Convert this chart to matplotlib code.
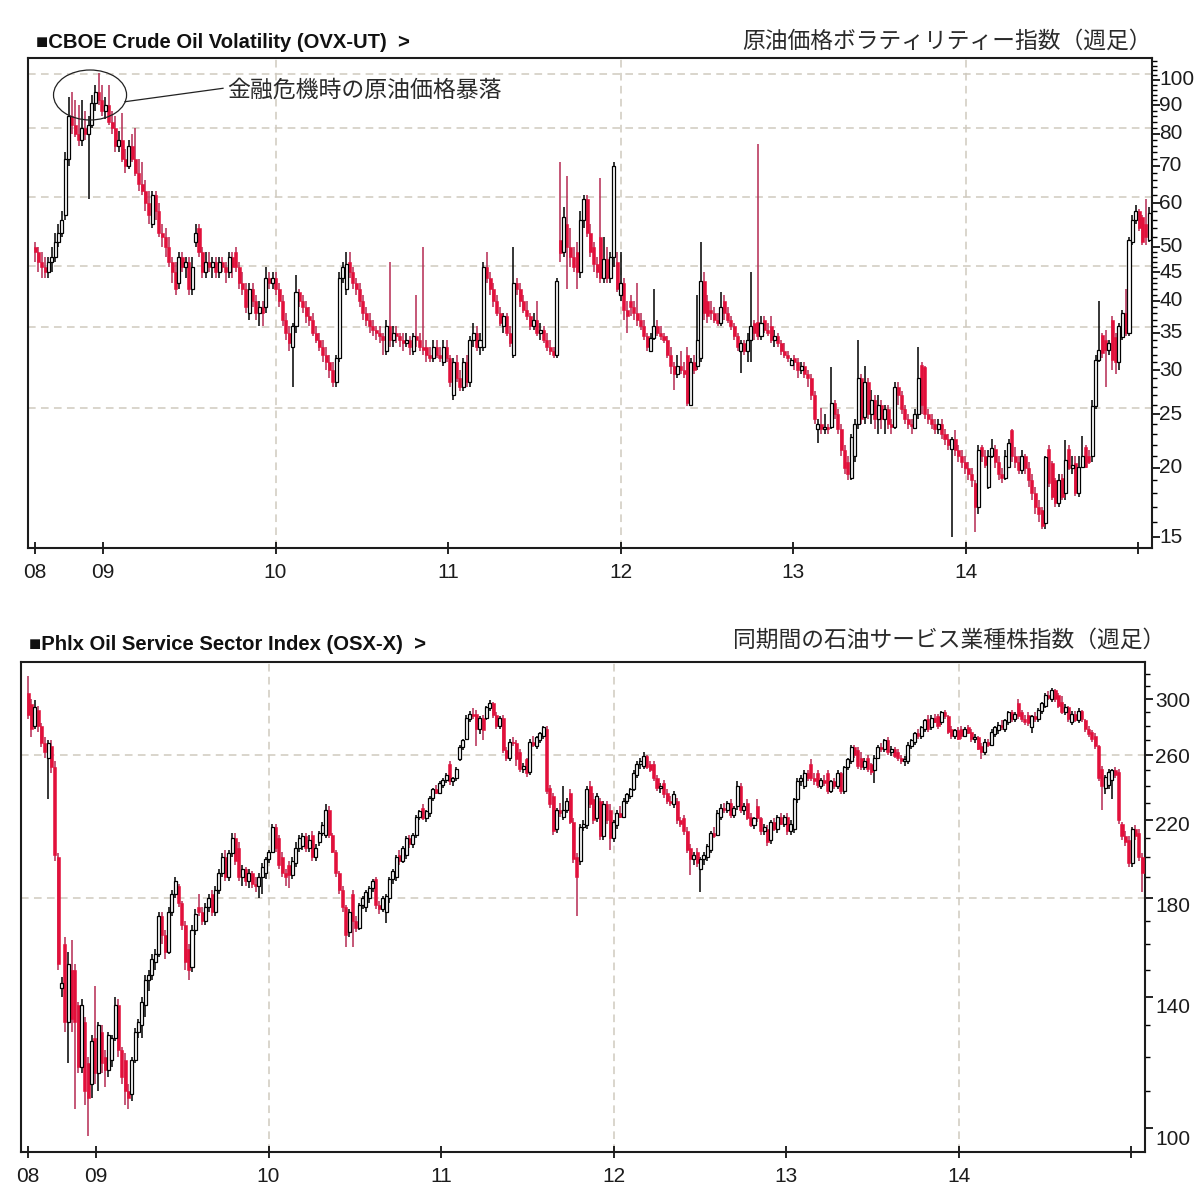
import numpy as np
import matplotlib
matplotlib.use("Agg")
import matplotlib.pyplot as plt
from matplotlib.patches import Ellipse
from matplotlib.lines import Line2D
from matplotlib.ticker import FixedLocator, NullFormatter
from matplotlib.transforms import ScaledTranslation

plt.rcParams['font.family'] = ['Liberation Sans', 'DejaVu Sans']

# ---- CBOE Crude Oil Volatility (OVX), weekly candles, Aug 2008 - Jan 2015 ----
ovx_open = [
    50, 49, 47, 46, 45, 47, 48, 51, 53, 57,
    72, 86, 83, 80, 78, 82, 80, 83, 91, 95,
    92, 88, 90, 84, 82, 76, 78, 72, 70, 76,
    72, 68, 65, 63, 60, 55, 62, 58, 53, 52,
    50, 47, 45, 43, 48, 46, 47, 42, 51, 54,
    49, 45, 47, 46, 47, 45, 47, 46, 45, 48,
    49, 46, 43, 42, 38, 42, 40, 38, 39, 39,
    44, 43, 44, 42, 40, 37, 35, 33, 36, 41.5,
    40, 39, 37.5, 37, 35, 34, 33, 32, 31, 30,
    28.5, 31.5, 44, 42, 47, 45, 43, 42, 40, 38,
    37, 36, 35.5, 35, 34.5, 32.5, 36, 34, 35, 34.5,
    34, 33.5, 34, 32.5, 34.5, 34, 33, 33, 32, 31.5,
    33, 32, 31, 33, 31.5, 27, 31, 29, 28, 31,
    28.5, 34, 35, 33, 33, 46, 44, 42, 40, 38,
    36, 37.5, 35, 32, 43, 42, 40, 38.5, 37.5, 36,
    37, 35, 35.5, 34, 33, 32.5, 32, 51.5, 49, 55,
    50, 48, 49, 45, 56, 61, 53, 50, 46.5, 52,
    44, 47.5, 44, 48, 47, 41, 43, 38.5, 40, 39,
    38, 37, 36, 34.5, 32.5, 34.3, 36, 35, 34.5, 34,
    32, 30.5, 29.5, 30.5, 30, 32, 26, 31, 30.5, 31.5,
    43.5, 40, 38.5, 38, 37, 36.5, 40, 38, 37, 36,
    34.5, 32.5, 33.5, 32.5, 34, 36.5, 36.6, 34.5, 37, 35.5,
    36, 34, 34.5, 33.5, 32.5, 32, 30.6, 31.5, 31, 30,
    30.5, 29.5, 29, 27, 23.5, 24, 23.5, 23.7, 23.7, 26.2,
    25, 23.5, 21.5, 20.5, 19.2, 21, 24, 29, 24.7, 28.5,
    25, 26.5, 24.5, 26, 24.5, 25.5, 24, 23.7, 28, 27,
    25.5, 24.5, 24, 23.6, 25, 30.7, 30.4, 25, 24.5, 24,
    23.5, 24, 23, 22.5, 21.6, 22.5, 21.5, 21, 20.5, 20,
    19.5, 18.8, 17, 21.8, 21, 18.5, 21, 21.6, 20.5, 19.5,
    19.2, 20.1, 23.4, 21, 20.5, 19.8, 21, 20, 19, 18,
    17, 16.8, 15.9, 21.6, 20.4, 19, 17.3, 19.2, 18, 21.6,
    20, 20.4, 18, 20.1, 21.8, 21, 21, 25.8, 31.3, 34.7,
    34, 32.6, 37, 34.4, 31, 34.4, 38, 35, 51, 56,
    58, 56.6, 55, 51.5,
]
ovx_high = [
    51, 50, 49, 48, 48, 50, 53, 55, 58, 74,
    93, 95, 92, 90, 92, 88, 86, 94, 98, 103,
    98, 93, 98, 88, 86, 81, 87, 75, 78, 80,
    82, 72, 71, 66, 63, 63, 63, 60, 55, 54,
    52, 48, 47, 49, 49, 48, 48, 48, 55, 55,
    50, 49, 49, 48, 48, 48, 48, 47, 49, 49,
    50, 47, 45, 43, 43, 43, 41, 40, 40, 46,
    45, 45, 45, 43, 41, 38, 36, 36.5, 44.5, 42,
    41, 40, 39, 38, 36, 35, 34, 33, 32, 31,
    32, 45, 47, 49, 49, 46, 44, 43, 41, 39,
    38, 37, 36, 36, 35, 37, 47, 36, 36, 35,
    35, 35, 34.5, 35, 41, 35, 50, 34, 33, 34,
    34, 33, 34, 34, 32, 31.5, 32, 30, 31.5, 32,
    34.5, 36.5, 36, 35, 47, 49, 45, 43, 41, 39,
    38, 38, 36, 50, 44, 43, 41, 40, 38, 38,
    40, 36.5, 36, 35, 34, 33, 44, 71, 59, 67,
    54, 50, 51, 58, 62, 62, 55, 51, 48, 66.5,
    52, 50, 49, 71, 49, 49, 44, 40, 41, 40,
    43, 38, 37, 35, 35, 42, 37, 36, 35, 34.5,
    33, 31, 32, 32.5, 31, 33, 31.5, 32, 41, 51,
    45, 41, 40, 39, 38, 41.5, 41, 39, 37.5, 36.5,
    35, 34, 34, 35, 45, 37, 76.5, 37.5, 37.5, 36.5,
    37.5, 35.5, 35, 34, 33.5, 32.5, 31.5, 32, 31.5, 31,
    31, 30, 29.5, 27.5, 24.5, 25.6, 25, 24, 30.4, 26.5,
    25.5, 24, 22, 21, 23, 24.5, 34, 29.5, 30.5, 29,
    27.6, 27, 27, 26.5, 26, 26, 24.5, 28.5, 28.5, 27.5,
    26, 25, 24.5, 25.5, 33, 31, 30.5, 25.5, 25, 24.5,
    24.5, 24.5, 23.5, 23, 22.7, 23.4, 22, 21.5, 21, 20.5,
    20, 19, 22, 22, 21.5, 21.5, 22.5, 22, 21, 20,
    21.5, 22.5, 23.5, 21.8, 21, 21.5, 21.2, 20.5, 19.5, 18.5,
    17.5, 17, 21, 22, 20.6, 19.2, 19.5, 19.5, 22.4, 22,
    21, 21, 21, 22.8, 22, 21.5, 26.5, 32, 40, 35,
    35.5, 34, 37.5, 35, 36.5, 38.5, 42, 52, 57, 59.5,
    58.5, 57, 61, 59,
]
ovx_low = [
    47, 45, 44, 44, 44, 45, 47, 50, 52, 56,
    70, 80, 79, 76, 76, 78, 61, 82, 88, 90,
    86, 85, 83, 80, 74, 74, 71, 68, 69, 71,
    67, 63, 62, 58, 55, 54, 56, 52, 50, 48,
    46, 43, 41, 42, 45, 44, 41, 41, 50, 48,
    44, 44, 45, 44, 44, 44, 45, 43, 44, 44,
    45, 42, 41, 38, 37, 39, 37, 36, 36, 38,
    42, 42, 41, 39, 36, 34, 32.5, 28, 35, 39,
    38, 36.5, 36, 34.5, 33.5, 32.5, 31, 30, 29, 28,
    28, 31, 43, 41, 44, 42, 41, 39, 37, 36,
    35, 34.5, 34, 33.5, 32, 32, 33, 33, 33.5, 33,
    32.5, 33, 32, 32, 33, 32.5, 32, 31, 31, 31,
    31.5, 31, 30.5, 31, 28, 26.5, 28.5, 27.5, 27.5, 28,
    28, 33, 32.5, 32, 32.5, 43, 41, 39, 37.5, 36,
    35, 34.5, 33, 31.5, 41, 39, 38, 37, 35.5, 35.5,
    34.5, 34, 33.5, 32.5, 32, 31.5, 31.5, 47, 48, 42,
    46, 45, 42, 44, 54, 52, 48, 45, 44, 43,
    43, 43, 43, 46, 41.5, 40, 37, 35, 37.5, 37,
    36, 35.5, 34, 32.5, 32.5, 34, 34.5, 34, 33.5, 31.5,
    29.5, 27.6, 29, 29.5, 29, 25.8, 25.8, 29.5, 30, 31,
    37, 36.5, 37, 36.5, 36, 36, 37, 36.5, 35.5, 34,
    32.5, 29.6, 32, 31, 31, 34, 34, 34, 35, 34.5,
    33.5, 33, 33, 32, 31.5, 31, 30.5, 30, 29, 29.5,
    29, 28, 26.5, 24, 22.2, 23, 23, 23, 23.5, 24.5,
    23, 21, 19.5, 19, 19, 20.5, 23.5, 24, 24, 24.5,
    24, 23.5, 23, 23.5, 23, 23.5, 23, 23.5, 26, 25,
    24, 23.5, 23, 23.5, 24.5, 25, 24.5, 24, 23.5, 23,
    23, 22.5, 22, 21.5, 15, 21, 20.5, 20, 19.5, 19,
    18.5, 15.3, 16.5, 20.5, 20, 18.3, 20.8, 20, 19, 18.8,
    19, 20, 20.5, 20, 19.5, 19.5, 19.5, 18.5, 17.5, 16.5,
    16, 15.5, 15.5, 18.5, 17.5, 17, 17, 17.5, 17.5, 19.8,
    19.5, 17.8, 17.7, 20, 20, 20.3, 20.5, 25.5, 31, 31.5,
    28, 32, 30, 29.5, 30, 34, 34.5, 34.5, 50.5, 55,
    53.5, 50.5, 50.5, 51,
]
ovx_close = [
    49, 47, 46, 45, 47, 48, 51, 53, 56, 72,
    86, 83, 80, 78, 82, 80, 83, 91, 95, 92,
    88, 90, 84, 82, 76, 78, 72, 70, 76, 72,
    68, 65, 63, 60, 57, 62, 58, 53, 52, 50,
    47, 45, 42, 48, 46, 47, 42, 46, 53, 49,
    45, 47, 46, 47, 45, 47, 46, 45, 48, 46,
    46, 43, 42, 39, 42, 40, 38, 39, 38, 44,
    43, 44, 42, 40, 37, 35, 33.5, 36, 41.5, 40,
    39, 37.5, 37, 35, 34, 33, 32, 31, 30, 28.5,
    31.5, 44, 46, 46.5, 45, 43, 42, 40, 38, 37,
    36, 35.5, 35, 34.5, 34, 36, 34, 35, 34.5, 34,
    33.5, 34, 33, 34.5, 34, 33, 32.6, 32, 31.5, 33,
    32, 31.5, 33, 31.5, 28.5, 31, 29, 28, 31, 28.5,
    34, 35, 33, 34, 46, 44, 42, 40, 38, 36.5,
    37.5, 35, 33.5, 43, 42, 40, 38.5, 37.5, 36, 37,
    35, 35.5, 34, 33, 32.5, 32, 43.5, 48.7, 56.5, 50,
    48, 46, 45, 56, 61, 53, 49, 46.5, 45, 44,
    47.5, 44, 48, 70, 42, 43, 38.5, 37.5, 39, 38,
    37, 36, 34.5, 33, 34.3, 36, 35, 34.5, 34, 32,
    30.5, 29.5, 30.5, 30, 29.5, 26.2, 31, 30, 34, 43.5,
    38, 37.5, 38, 37, 36.5, 39, 38, 37, 36, 34.5,
    33, 33.5, 32.5, 34, 36, 35, 34.5, 36.5, 35.5, 35,
    34, 34.5, 33.5, 32.5, 32, 31.5, 31.3, 31, 30, 30.5,
    29.5, 29, 27, 24.5, 24, 23.5, 23.7, 23.5, 26.2, 25,
    23.5, 21.5, 20, 19.5, 22.7, 24, 29, 24.5, 28.5, 25,
    26.5, 24.5, 26, 24.5, 25.5, 24, 23.7, 28, 27, 25.5,
    24.5, 24, 23.8, 25, 29, 26, 25, 24.5, 24, 23.5,
    24, 23, 22.5, 22, 22.5, 21.5, 21, 20.5, 20, 19.5,
    19, 17, 21.5, 21, 20.2, 21, 21.7, 20.5, 19.5, 19.2,
    21, 22.2, 21, 20.5, 19.8, 21, 20, 19, 18, 17,
    16.5, 15.7, 20.9, 18.8, 17.7, 17.3, 19, 17.7, 20.7, 20,
    20.2, 18, 20.1, 21, 20.1, 20.5, 25.8, 31.3, 32.6, 32.2,
    32.6, 33.5, 31.3, 31, 36, 38, 35, 51.5, 56, 58,
    54, 51, 52, 57.6,
]

# ---- PHLX Oil Service Sector Index (OSX), same weeks ----
osx_open = [
    305, 296, 280, 292, 280, 268, 258, 266, 252, 200,
    143, 160, 131, 150, 150, 137, 117, 131, 118, 112,
    126, 115, 128, 120, 116, 119, 126, 137, 122, 119,
    110, 109, 119, 128, 130, 137, 146, 148, 153, 156,
    172, 164, 157, 174, 182, 186, 178, 168, 158, 151,
    166, 176, 174, 170, 176, 182, 174, 184, 192, 200,
    190, 202, 210, 205, 190, 194, 188, 192, 187, 186,
    190, 192, 199, 203, 216, 210, 200, 192, 196, 191,
    197, 205, 206, 211, 205, 212, 200, 208, 213, 212,
    226, 212, 203, 192, 184, 176, 165, 182, 170, 167,
    177, 176, 180, 185, 189, 177, 175, 174, 180, 189,
    190, 201, 198, 201, 210, 207, 212, 222, 227, 221,
    224, 233, 238, 236, 241, 244, 254, 243, 245, 257,
    265, 271, 285, 289, 289, 278, 286, 286, 293, 297,
    288, 280, 286, 263, 258, 269, 268, 262, 251, 257,
    249, 269, 266, 270, 273, 278, 239, 234, 215, 226,
    222, 226, 236, 219, 200, 198, 216, 217, 240, 232,
    221, 231, 211, 229, 226, 210, 217, 224, 222, 231,
    234, 238, 247, 254, 253, 259, 254, 254, 245, 239,
    242, 236, 231, 229, 231, 220, 221, 214, 205, 199,
    203, 194, 199, 200, 204, 213, 212, 222, 227, 226,
    230, 223, 228, 240, 226, 230, 222, 217, 228, 221,
    214, 215, 209, 219, 215, 222, 218, 222, 214, 215,
    232, 243, 240, 248, 254, 245, 248, 240, 244, 248,
    237, 243, 240, 248, 237, 252, 256, 265, 263, 258,
    252, 258, 254, 250, 258, 265, 264, 270, 262, 264,
    262, 258, 256, 256, 266, 269, 275, 273, 278, 285,
    279, 286, 287, 283, 290, 287, 278, 273, 277, 278,
    273, 279, 276, 271, 272, 266, 262, 269, 267, 274,
    277, 281, 278, 283, 290, 285, 297, 290, 285, 288,
    279, 287, 285, 291, 295, 303, 300, 307, 303, 298,
    290, 294, 283, 289, 284, 291, 284, 278, 276, 273,
    266, 251, 239, 241, 244, 250, 249, 218, 211, 209,
    197, 215, 213, 200,
]
osx_high = [
    318, 300, 299, 295, 282, 272, 270, 270, 256, 202,
    147, 163, 157, 162, 152, 138, 139, 133, 120, 127,
    144, 131, 130, 122, 128, 127, 140, 139, 123, 121,
    112, 120, 129, 132, 140, 148, 150, 156, 158, 174,
    174, 166, 176, 184, 190, 187, 179, 170, 160, 168,
    175, 182, 176, 178, 182, 184, 186, 194, 202, 204,
    204, 213, 213, 208, 196, 195, 194, 193, 190, 192,
    197, 200, 204, 218, 218, 212, 203, 194, 198, 200,
    208, 212, 213, 213, 212, 214, 207, 214, 219, 229,
    228, 213, 204, 193, 186, 177, 175, 184, 172, 178,
    181, 184, 186, 189, 190, 179, 181, 182, 190, 194,
    201, 204, 206, 211, 212, 213, 223, 226, 229, 226,
    234, 239, 241, 243, 245, 248, 256, 246, 252, 267,
    271, 288, 291, 293, 292, 287, 288, 295, 299, 298,
    290, 287, 288, 265, 271, 272, 270, 264, 255, 258,
    271, 273, 273, 276, 280, 280, 241, 236, 227, 230,
    240, 233, 238, 221, 202, 218, 220, 240, 243, 236,
    236, 233, 231, 231, 229, 220, 226, 228, 233, 236,
    239, 250, 256, 258, 262, 260, 256, 256, 247, 242,
    244, 238, 234, 237, 233, 222, 223, 216, 207, 203,
    205, 200, 203, 207, 214, 216, 226, 229, 230, 231,
    232, 228, 243, 242, 230, 232, 224, 222, 232, 222,
    218, 217, 220, 221, 223, 224, 223, 224, 220, 233,
    245, 247, 250, 250, 257, 248, 250, 245, 247, 250,
    244, 245, 250, 249, 253, 258, 267, 267, 265, 262,
    258, 260, 255, 260, 267, 268, 271, 272, 266, 265,
    264, 260, 259, 269, 271, 276, 278, 280, 285, 288,
    288, 289, 289, 291, 292, 288, 280, 278, 279, 280,
    279, 281, 278, 274, 273, 268, 271, 271, 278, 280,
    283, 284, 285, 291, 292, 290, 300, 292, 288, 290,
    288, 290, 293, 298, 305, 306, 309, 308, 305, 302,
    296, 295, 291, 291, 293, 292, 285, 280, 277, 275,
    267, 253, 247, 251, 251, 252, 251, 219, 214, 211,
    216, 217, 215, 202,
]
osx_low = [
    285, 272, 278, 276, 265, 258, 232, 248, 198, 150,
    140, 128, 118, 128, 105, 115, 115, 106, 98, 108,
    112, 110, 115, 111, 114, 117, 125, 120, 112, 106,
    105, 107, 118, 126, 126, 133, 142, 146, 150, 155,
    160, 154, 156, 172, 180, 176, 166, 150, 146, 149,
    164, 172, 168, 168, 174, 172, 172, 182, 190, 188,
    188, 200, 196, 188, 186, 186, 185, 185, 183, 180,
    182, 189, 197, 202, 203, 194, 190, 186, 185, 189,
    195, 203, 204, 203, 203, 198, 198, 206, 211, 210,
    210, 202, 190, 182, 174, 159, 163, 159, 165, 166,
    175, 174, 178, 183, 175, 173, 174, 169, 178, 187,
    188, 196, 197, 199, 205, 205, 210, 220, 220, 219,
    222, 231, 235, 235, 239, 242, 241, 240, 243, 256,
    263, 270, 283, 285, 266, 274, 270, 284, 291, 286,
    278, 278, 261, 256, 256, 266, 253, 249, 248, 246,
    247, 265, 264, 268, 271, 235, 227, 212, 213, 222,
    220, 224, 218, 197, 172, 196, 214, 215, 227, 218,
    219, 209, 209, 218, 204, 208, 215, 221, 221, 229,
    232, 237, 245, 251, 251, 251, 249, 243, 237, 236,
    233, 229, 228, 227, 218, 216, 212, 202, 191, 196,
    195, 183, 196, 198, 202, 210, 211, 220, 224, 224,
    221, 221, 226, 224, 223, 220, 216, 215, 219, 212,
    212, 206, 207, 214, 213, 217, 216, 212, 212, 213,
    230, 240, 238, 243, 243, 241, 239, 238, 240, 235,
    236, 238, 238, 235, 235, 250, 254, 258, 251, 250,
    250, 249, 247, 242, 257, 262, 262, 260, 259, 258,
    256, 254, 253, 254, 264, 267, 271, 271, 276, 276,
    277, 282, 278, 281, 285, 274, 271, 271, 270, 271,
    272, 274, 269, 268, 263, 257, 260, 265, 266, 272,
    274, 277, 276, 281, 283, 283, 285, 283, 281, 280,
    275, 283, 283, 289, 293, 299, 298, 298, 293, 289,
    288, 283, 281, 283, 282, 283, 276, 272, 269, 264,
    243, 226, 235, 238, 232, 245, 218, 209, 206, 195,
    195, 209, 198, 183,
]
osx_close = [
    288, 278, 294, 280, 268, 262, 268, 252, 201, 152,
    145, 131, 152, 132, 131, 117, 137, 110, 108, 125,
    115, 130, 118, 116, 127, 126, 137, 122, 114, 110,
    108, 119, 128, 131, 138, 146, 148, 154, 156, 172,
    164, 157, 174, 182, 188, 178, 168, 153, 150, 166,
    173, 174, 170, 176, 180, 174, 184, 192, 200, 190,
    202, 210, 198, 190, 194, 188, 192, 187, 186, 190,
    195, 199, 203, 216, 205, 196, 192, 190, 191, 198,
    205, 210, 211, 205, 209, 200, 205, 213, 217, 226,
    212, 203, 192, 184, 176, 164, 174, 170, 167, 177,
    180, 183, 185, 188, 177, 175, 180, 181, 189, 193,
    200, 198, 205, 210, 207, 212, 222, 225, 221, 225,
    233, 238, 236, 242, 244, 247, 243, 245, 251, 265,
    270, 286, 289, 287, 278, 286, 277, 294, 297, 288,
    280, 286, 263, 258, 269, 268, 257, 251, 253, 248,
    269, 267, 272, 275, 279, 237, 229, 214, 226, 224,
    226, 231, 219, 199, 190, 216, 218, 238, 229, 220,
    234, 211, 229, 220, 210, 219, 224, 222, 231, 235,
    238, 248, 254, 256, 259, 252, 250, 245, 239, 240,
    235, 231, 230, 235, 220, 218, 214, 204, 199, 201,
    197, 199, 201, 206, 213, 211, 224, 227, 226, 230,
    223, 227, 240, 226, 228, 221, 217, 221, 221, 214,
    216, 208, 219, 215, 222, 218, 222, 214, 218, 232,
    243, 245, 248, 245, 245, 243, 241, 244, 242, 237,
    243, 240, 248, 237, 252, 257, 265, 260, 253, 252,
    256, 251, 249, 258, 265, 264, 270, 262, 264, 259,
    258, 256, 257, 267, 270, 275, 273, 279, 284, 278,
    286, 283, 280, 290, 287, 276, 273, 277, 271, 273,
    278, 275, 271, 272, 264, 262, 269, 267, 276, 279,
    281, 279, 284, 290, 285, 289, 287, 285, 283, 282,
    287, 285, 292, 297, 303, 301, 307, 300, 295, 290,
    294, 285, 289, 284, 291, 285, 278, 274, 271, 266,
    245, 240, 246, 249, 250, 247, 220, 211, 208, 197,
    215, 211, 200, 192,
]

# axis labels
year_ticks = [2009, 2010, 2011, 2012, 2013, 2014, 2015]
year_labels = ['09', '10', '11', '12', '13', '14', '']
ovx_ticks = [15, 20, 25, 30, 35, 40, 45, 50, 60, 70, 80, 90, 100]
ovx_grid = [25, 35, 45, 60, 80, 100]
osx_ticks = [100, 140, 180, 220, 260, 300]
osx_grid = [180, 260]

# one candle per week, first week mid-Aug 2008, last week mid-Jan 2015
weeks = np.linspace(2008.606, 2015.064, len(ovx_close))

RED = '#e2103b'
RED_WICK = '#b52a52'
GRID = '#cfcabf'
DPI = 100


def candles(ax, x, o, h, l, c):
    o, h, l, c = (np.asarray(v, float) for v in (o, h, l, c))
    up = c >= o
    dn = ~up
    ax.vlines(x[dn], l[dn], h[dn], color=RED_WICK, lw=1.1, zorder=2)
    ax.vlines(x[up], l[up], h[up], color='black', lw=1.1, zorder=2)
    lo = np.minimum(o, c)
    hi = np.maximum(o, c)
    w = 0.0175
    ax.bar(x[dn], hi[dn] - lo[dn], bottom=lo[dn], width=w, color=RED,
           edgecolor=RED, lw=0.4, zorder=3)
    ax.bar(x[up], hi[up] - lo[up], bottom=lo[up], width=w, color='white',
           edgecolor='black', lw=0.9, zorder=3)


def style(ax, ylim, ticks, minors, grid_vals, grid_up, lab_dx, lab_dy):
    fig = ax.figure
    ax.set_yscale('log')
    ax.set_xlim(2008.565, 2015.081)
    ax.set_ylim(*ylim)
    for s in ax.spines.values():
        s.set_color('#1c1c1c')
        s.set_linewidth(1.5)
    ax.yaxis.tick_right()
    ax.yaxis.set_major_locator(FixedLocator(ticks))
    ax.yaxis.set_major_formatter(NullFormatter())
    ax.yaxis.set_minor_locator(FixedLocator(minors))
    ax.yaxis.set_minor_formatter(NullFormatter())
    ax.tick_params(axis='y', which='major', direction='out', length=6, width=1.2)
    ax.tick_params(axis='y', which='minor', direction='out', length=3.5, width=1.0)
    # tick labels drawn as text so they can sit where the original puts them
    tr = ax.get_yaxis_transform()
    for v, dy in zip(ticks, lab_dy):
        ax.text(1.0, v, str(v), transform=tr + ScaledTranslation(lab_dx / DPI, -dy / DPI, fig.dpi_scale_trans),
                ha='left', va='center', fontsize=15, color='#1c1c1c', clip_on=False)
    ax.set_xticks([weeks[0]] + year_ticks)
    ax.set_xticklabels(['08'] + year_labels, fontsize=15, color='#1c1c1c')
    ax.tick_params(axis='x', direction='inout', length=9, width=1.2, pad=6)
    for v in grid_vals:
        ln = ax.axhline(v, color=GRID, lw=1.1, ls=(0, (5, 3.5)), zorder=1)
        ln.set_transform(ln.get_transform() + ScaledTranslation(0, grid_up / DPI, fig.dpi_scale_trans))
    for yr in (2010, 2012, 2014):
        ax.axvline(yr, color=GRID, lw=1.1, ls=(0, (5, 3.5)), zorder=1)


fig = plt.figure(figsize=(12, 12.02), dpi=DPI)
W, H = 1200, 1202
ax1 = fig.add_axes([28 / W, 1 - 548 / H, 1124 / W, 490 / H])
ax2 = fig.add_axes([21 / W, 1 - 1152 / H, 1124 / W, 490 / H])

candles(ax1, weeks, ovx_open, ovx_high, ovx_low, ovx_close)
candles(ax2, weeks, osx_open, osx_high, osx_low, osx_close)

ovx_minor = [v for v in list(range(14, 50)) + list(range(50, 110, 2)) if v not in ovx_ticks]
osx_minor = [v for v in range(90, 330, 10) if v not in osx_ticks]
style(ax1, (14.34, 109.5), ovx_ticks, ovx_minor, ovx_grid, 6, 7, [0] * len(ovx_ticks))
style(ax2, (94.0, 329.9), osx_ticks, osx_minor, osx_grid, 0, 10, [12, 11, 8, 5, 3, 2])

# titles
jp = ['Noto Sans CJK JP']
fig.text(36 / W, 1 - 42 / H, '■CBOE Crude Oil Volatility (OVX-UT)  >', fontsize=14.6,
         fontweight='bold', ha='left', va='center', color='#111111')
fig.text(1152 / W, 1 - 41 / H, '原油価格ボラティリティー指数（週足）', family=jp, fontsize=16.4,
         ha='right', va='center', color='#2a2a2a')
fig.text(29 / W, 1 - 645 / H, '■Phlx Oil Service Sector Index (OSX-X)  >', fontsize=14.6,
         fontweight='bold', ha='left', va='center', color='#111111')
fig.text(1165 / W, 1 - 640 / H, '同期間の石油サービス業種株指数（週足）', family=jp, fontsize=16.4,
         ha='right', va='center', color='#2a2a2a')

# annotation around the 2008 peak
ax1.add_patch(Ellipse((0.0552, 0.9245), 0.065, 0.102, transform=ax1.transAxes,
                      fill=False, ec='#222222', lw=0.9, zorder=5))
ax1.add_line(Line2D([0.0863, 0.1735], [0.9108, 0.9382], transform=ax1.transAxes,
                    color='#222222', lw=0.9, zorder=5))
ax1.text(0.1770, 0.9347, '金融危機時の原油価格暴落', transform=ax1.transAxes, family=jp,
         fontsize=16.5, ha='left', va='center', color='#2a2a2a', zorder=5)

fig.savefig('out.png', dpi=DPI)
